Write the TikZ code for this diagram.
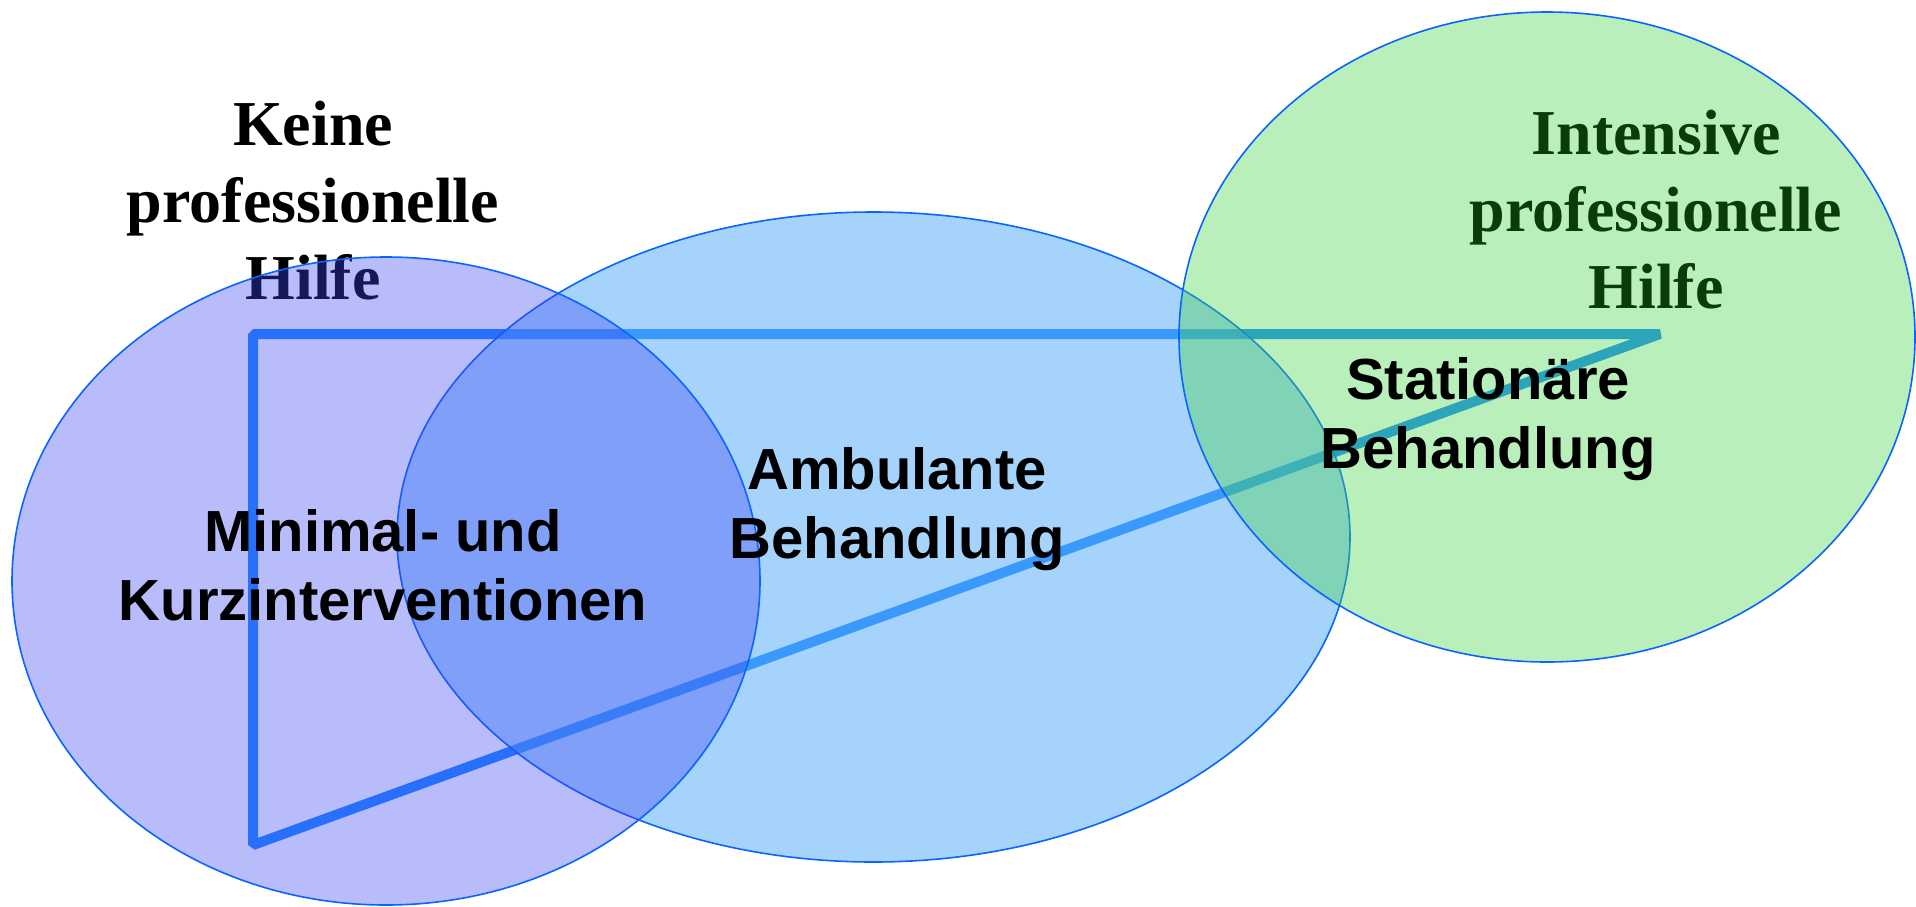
\documentclass[tikz,border=0pt]{standalone}
\usepackage{fontspec}
\newfontfamily\romanlab{Liberation Serif}
\newfontfamily\sanslab{Liberation Sans}
\usetikzlibrary{positioning}

\definecolor{ambfill}{RGB}{85,171,248}
\definecolor{minfill}{RGB}{58,69,244}
\definecolor{statfill}{RGB}{68,213,76}
\definecolor{rimblue}{RGB}{10,100,255}
\definecolor{pathblue}{RGB}{30,136,255}
\definecolor{hilfegreen}{RGB}{10,60,10}

\begin{document}
\begin{tikzpicture}[x=0.5pt, y=-0.5pt, line join=bevel,
  help/.style={align=center, anchor=base, inner sep=0pt, font=\romanlab\bfseries\fontsize{32}{38.5}\selectfont},
  treat/.style={align=center, anchor=base, inner sep=0pt, font=\sanslab\bfseries\fontsize{29}{34.5}\selectfont},
  region/.style={draw=rimblue, line width=0.8pt}]
\useasboundingbox (0,0) rectangle (1916,906);
% Dreieck
\coordinate (tl) at (253,334);
\coordinate (bl) at (253,845);
\coordinate (tip) at (1660,334);
\draw[pathblue, line width=5pt] (tl) -- (bl) -- (tip) -- cycle;
\node[help] (keine) at (313,299) {Keine\\professionelle\\Hilfe};
% Ellipsen
\foreach \cx/\cy/\rx/\ry/\col/\op in {873.5/537/476.5/325/ambfill/0.52, 386/581/374/324/minfill/0.36, 1547/337/368/325/statfill/0.38}
  \draw[region, fill=\col, fill opacity=\op] (\cx,\cy) ellipse [x radius=\rx, y radius=\ry];
\node[help, text=hilfegreen] (intensiv) at (1656,308) {Intensive\\professionelle\\Hilfe};
\node[treat] (minimal) at (383,620) {Minimal- und\\Kurzinterventionen};
\node[treat] (ambulant) at (897,558) {Ambulante\\Behandlung};
\node[treat] (station) at (1488,468) {Stationäre\\Behandlung};
\end{tikzpicture}
\end{document}
